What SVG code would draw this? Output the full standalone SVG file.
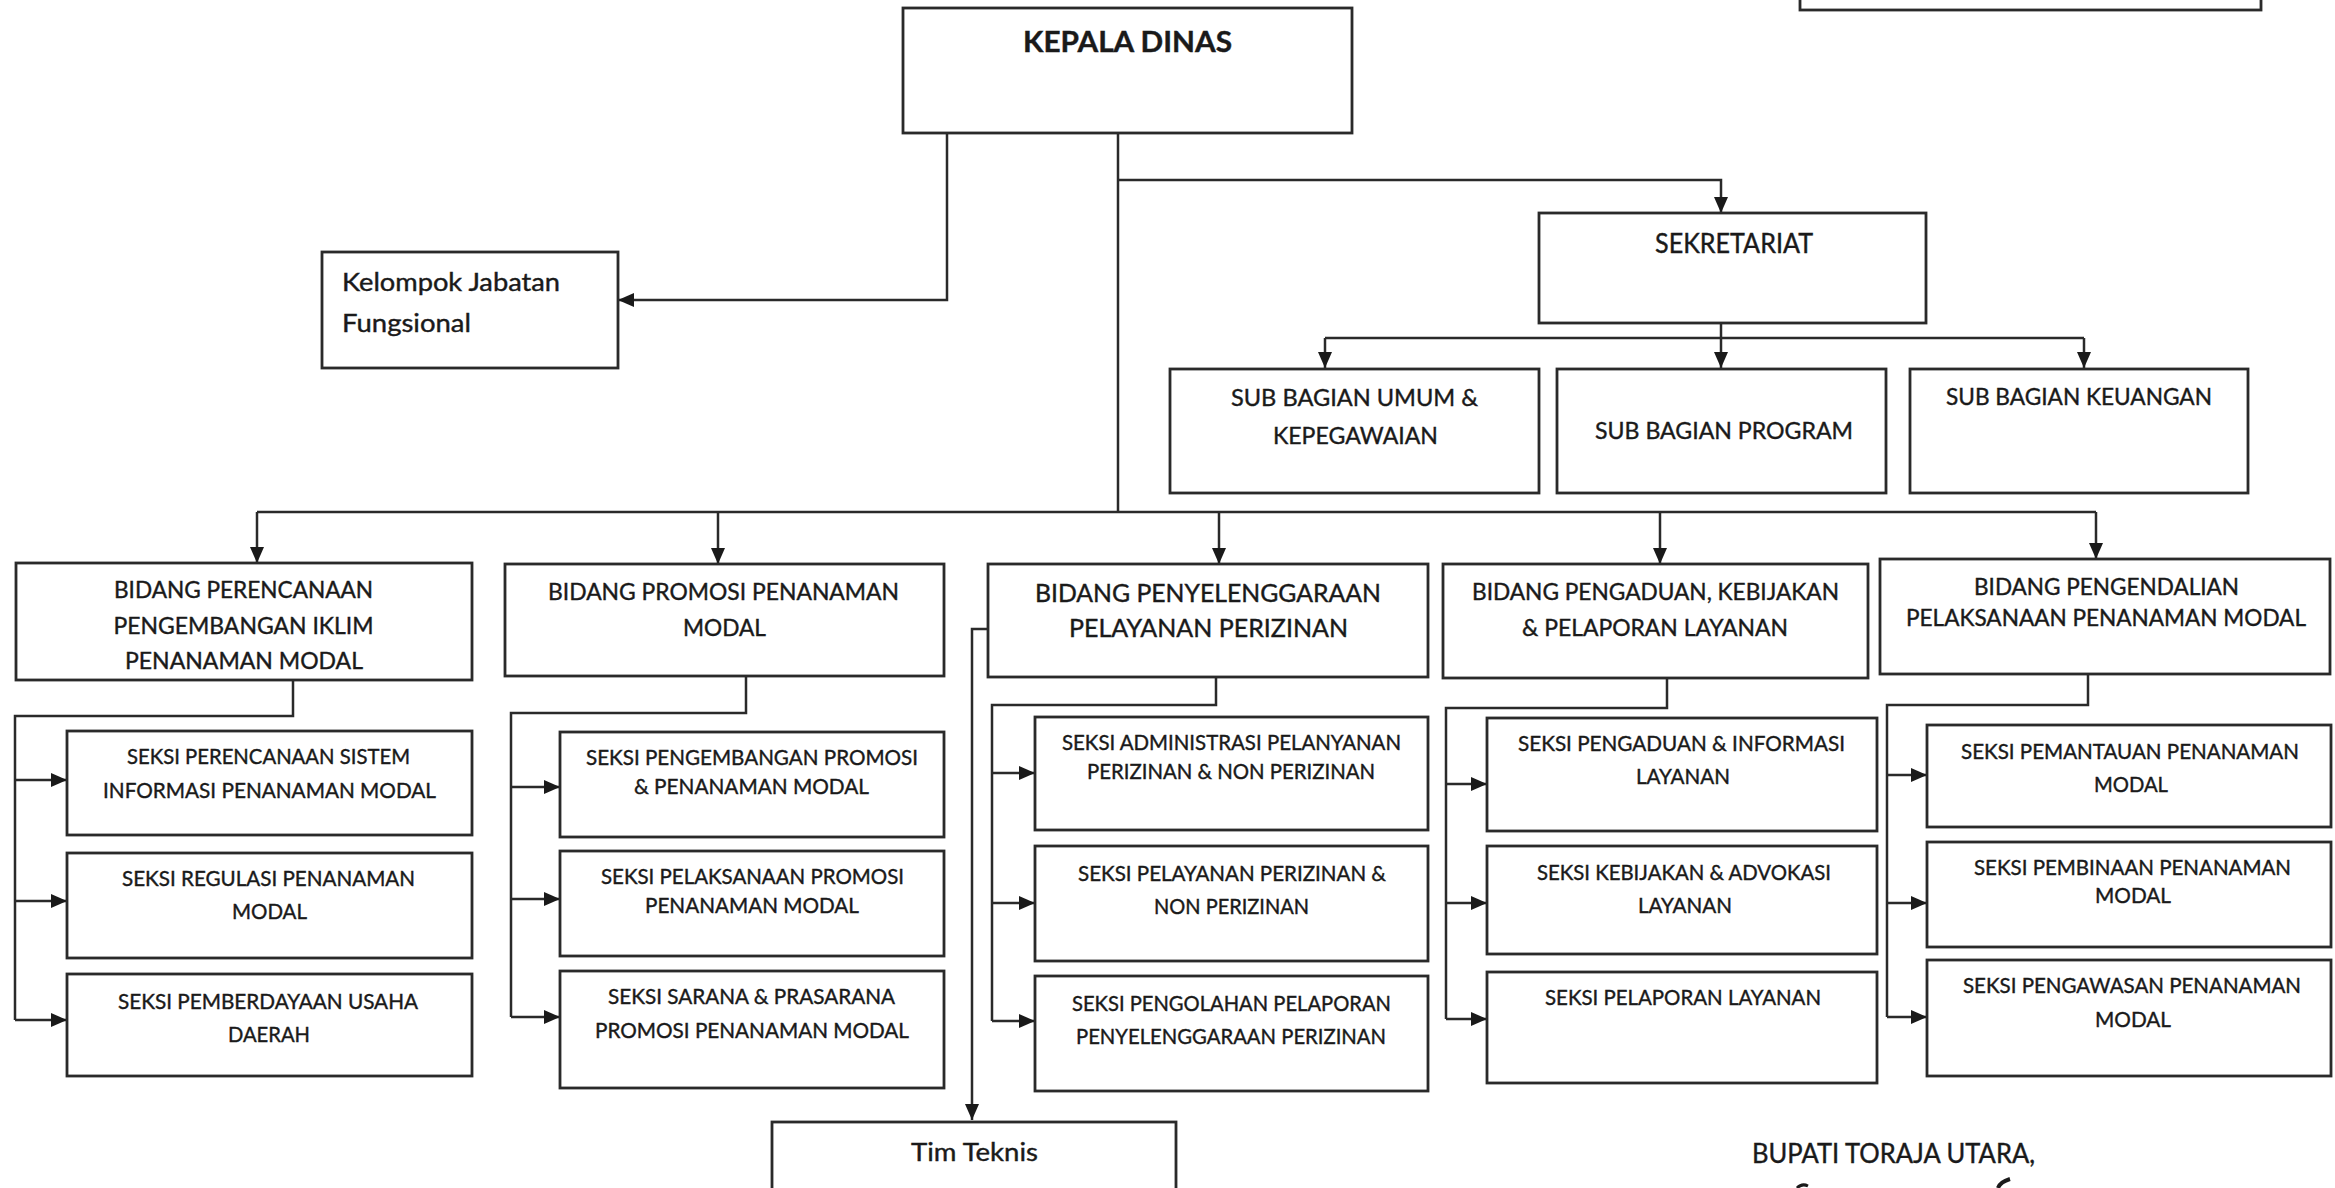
<svg xmlns="http://www.w3.org/2000/svg" width="2335" height="1188" viewBox="0 0 2335 1188">
<style>
.bx{fill:#fff;stroke:#2a2a2a;stroke-width:2.8}
.ln{fill:none;stroke:#2a2a2a;stroke-width:2.5}
text{font-family:Lato,"Open Sans","Liberation Sans",sans-serif;fill:#1a1a1a;stroke:#1a1a1a;stroke-width:0.4;text-anchor:middle}
.s{font-size:21.5px}
.b{font-size:23px}
.b3{font-size:25px}
.sb{font-size:24px}
.l{text-anchor:start;font-size:25px}
</style>
<defs>
<marker id="ar" viewBox="0 0 16 14" refX="16" refY="7" markerWidth="16" markerHeight="14" markerUnits="userSpaceOnUse" orient="auto">
<path d="M0,0 L16,7 L0,14 z" fill="#1a1a1a"/>
</marker>
</defs>
<rect width="2335" height="1188" fill="#fff"/>

<g id="connectors">
<path class="ln" d="M947,133 V300 H618" marker-end="url(#ar)"/>
<path class="ln" d="M1118,133 V512"/>
<path class="ln" d="M1118,180 H1721 V213" marker-end="url(#ar)"/>
<path class="ln" d="M1721,323 V368" marker-end="url(#ar)"/>
<path class="ln" d="M1325,338 H2084"/>
<path class="ln" d="M1325,338 V368" marker-end="url(#ar)"/>
<path class="ln" d="M2084,338 V368" marker-end="url(#ar)"/>
<path class="ln" d="M257,512 H2096"/>
<path class="ln" d="M257,512 V563" marker-end="url(#ar)"/>
<path class="ln" d="M718,512 V564" marker-end="url(#ar)"/>
<path class="ln" d="M1219,512 V564" marker-end="url(#ar)"/>
<path class="ln" d="M1660,512 V564" marker-end="url(#ar)"/>
<path class="ln" d="M2096,512 V559" marker-end="url(#ar)"/>
<path class="ln" d="M293,680 V716 H15 V1020"/>
<path class="ln" d="M15,780 H67" marker-end="url(#ar)"/>
<path class="ln" d="M15,901 H67" marker-end="url(#ar)"/>
<path class="ln" d="M15,1020 H67" marker-end="url(#ar)"/>
<path class="ln" d="M746,676 V713 H511 V1017"/>
<path class="ln" d="M511,787 H560" marker-end="url(#ar)"/>
<path class="ln" d="M511,899 H560" marker-end="url(#ar)"/>
<path class="ln" d="M511,1017 H560" marker-end="url(#ar)"/>
<path class="ln" d="M1216,677 V705 H992 V1021"/>
<path class="ln" d="M992,773 H1035" marker-end="url(#ar)"/>
<path class="ln" d="M992,903 H1035" marker-end="url(#ar)"/>
<path class="ln" d="M992,1021 H1035" marker-end="url(#ar)"/>
<path class="ln" d="M1667,678 V708 H1446 V1019"/>
<path class="ln" d="M1446,784 H1487" marker-end="url(#ar)"/>
<path class="ln" d="M1446,903 H1487" marker-end="url(#ar)"/>
<path class="ln" d="M1446,1019 H1487" marker-end="url(#ar)"/>
<path class="ln" d="M2088,674 V705 H1887 V1017"/>
<path class="ln" d="M1887,775 H1927" marker-end="url(#ar)"/>
<path class="ln" d="M1887,903 H1927" marker-end="url(#ar)"/>
<path class="ln" d="M1887,1017 H1927" marker-end="url(#ar)"/>
<path class="ln" d="M988,629 H972 V1120" marker-end="url(#ar)"/>
</g>

<g id="top-right-box"><rect class="bx" x="1800" y="-10" width="461" height="20"/></g>

<g id="kepala-dinas">
<rect class="bx" x="903" y="8" width="449" height="125"/>
<text x="1127.5" y="52" font-size="28" font-weight="bold" textLength="209" lengthAdjust="spacingAndGlyphs">KEPALA DINAS</text>
</g>

<g id="kelompok-jabatan-fungsional">
<rect class="bx" x="322" y="252" width="296" height="116"/>
<text class="l" x="342" y="291" textLength="218" lengthAdjust="spacingAndGlyphs">Kelompok Jabatan</text>
<text class="l" x="342" y="332" textLength="129" lengthAdjust="spacingAndGlyphs">Fungsional</text>
</g>

<g id="sekretariat">
<rect class="bx" x="1539" y="213" width="387" height="110"/>
<text x="1734" y="253" font-size="26" textLength="158" lengthAdjust="spacingAndGlyphs">SEKRETARIAT</text>
</g>

<g id="sub-umum">
<rect class="bx" x="1170" y="369" width="369" height="124"/>
<text class="sb" x="1354.5" y="406" textLength="247" lengthAdjust="spacingAndGlyphs">SUB BAGIAN UMUM &amp;</text>
<text class="sb" x="1355.5" y="444" textLength="165" lengthAdjust="spacingAndGlyphs">KEPEGAWAIAN</text>
</g>
<g id="sub-program">
<rect class="bx" x="1557" y="369" width="329" height="124"/>
<text class="sb" x="1724" y="439" textLength="258" lengthAdjust="spacingAndGlyphs">SUB BAGIAN PROGRAM</text>
</g>
<g id="sub-keuangan">
<rect class="bx" x="1910" y="369" width="338" height="124"/>
<text class="sb" x="2079" y="405" textLength="266" lengthAdjust="spacingAndGlyphs">SUB BAGIAN KEUANGAN</text>
</g>

<g id="bidang-perencanaan">
<rect class="bx" x="16" y="563" width="456" height="117"/>
<text class="b" x="243.5" y="598" textLength="259" lengthAdjust="spacingAndGlyphs">BIDANG PERENCANAAN</text>
<text class="b" x="243.5" y="634" textLength="260" lengthAdjust="spacingAndGlyphs">PENGEMBANGAN IKLIM</text>
<text class="b" x="244" y="669" textLength="238" lengthAdjust="spacingAndGlyphs">PENANAMAN MODAL</text>
</g>
<g id="bidang-promosi">
<rect class="bx" x="505" y="564" width="439" height="112"/>
<text class="b" x="723.5" y="600" textLength="351" lengthAdjust="spacingAndGlyphs">BIDANG PROMOSI PENANAMAN</text>
<text class="b" x="724.5" y="636" textLength="83" lengthAdjust="spacingAndGlyphs">MODAL</text>
</g>
<g id="bidang-penyelenggaraan">
<rect class="bx" x="988" y="564" width="440" height="113"/>
<text class="b3" x="1208" y="602" textLength="346" lengthAdjust="spacingAndGlyphs">BIDANG PENYELENGGARAAN</text>
<text class="b3" x="1208.5" y="637" textLength="279" lengthAdjust="spacingAndGlyphs">PELAYANAN PERIZINAN</text>
</g>
<g id="bidang-pengaduan">
<rect class="bx" x="1443" y="564" width="425" height="114"/>
<text class="b" x="1655.5" y="600" textLength="367" lengthAdjust="spacingAndGlyphs">BIDANG PENGADUAN, KEBIJAKAN</text>
<text class="b" x="1655" y="636" textLength="266" lengthAdjust="spacingAndGlyphs">&amp; PELAPORAN LAYANAN</text>
</g>
<g id="bidang-pengendalian">
<rect class="bx" x="1880" y="559" width="450" height="115"/>
<text class="b" x="2106.5" y="595" textLength="265" lengthAdjust="spacingAndGlyphs">BIDANG PENGENDALIAN</text>
<text class="b" x="2106" y="626" textLength="400" lengthAdjust="spacingAndGlyphs">PELAKSANAAN PENANAMAN MODAL</text>
</g>

<g id="seksi-perencanaan-sistem">
<rect class="bx" x="67" y="731" width="405" height="104"/>
<text class="s" x="268.5" y="764" textLength="283" lengthAdjust="spacingAndGlyphs">SEKSI PERENCANAAN SISTEM</text>
<text class="s" x="269.5" y="798" textLength="333" lengthAdjust="spacingAndGlyphs">INFORMASI PENANAMAN MODAL</text>
</g>
<g id="seksi-regulasi">
<rect class="bx" x="67" y="853" width="405" height="105"/>
<text class="s" x="268.5" y="886" textLength="293" lengthAdjust="spacingAndGlyphs">SEKSI REGULASI PENANAMAN</text>
<text class="s" x="269.5" y="919" textLength="75" lengthAdjust="spacingAndGlyphs">MODAL</text>
</g>
<g id="seksi-pemberdayaan">
<rect class="bx" x="67" y="974" width="405" height="102"/>
<text class="s" x="268" y="1009" textLength="300" lengthAdjust="spacingAndGlyphs">SEKSI PEMBERDAYAAN USAHA</text>
<text class="s" x="269" y="1042" textLength="82" lengthAdjust="spacingAndGlyphs">DAERAH</text>
</g>

<g id="seksi-pengembangan-promosi">
<rect class="bx" x="560" y="732" width="384" height="105"/>
<text class="s" x="752" y="765" textLength="332" lengthAdjust="spacingAndGlyphs">SEKSI PENGEMBANGAN PROMOSI</text>
<text class="s" x="751.5" y="794" textLength="235" lengthAdjust="spacingAndGlyphs">&amp; PENANAMAN MODAL</text>
</g>
<g id="seksi-pelaksanaan-promosi">
<rect class="bx" x="560" y="851" width="384" height="105"/>
<text class="s" x="752.5" y="884" textLength="303" lengthAdjust="spacingAndGlyphs">SEKSI PELAKSANAAN PROMOSI</text>
<text class="s" x="752" y="913" textLength="214" lengthAdjust="spacingAndGlyphs">PENANAMAN MODAL</text>
</g>
<g id="seksi-sarana-prasarana">
<rect class="bx" x="560" y="971" width="384" height="117"/>
<text class="s" x="751.5" y="1004" textLength="287" lengthAdjust="spacingAndGlyphs">SEKSI SARANA &amp; PRASARANA</text>
<text class="s" x="752" y="1038" textLength="314" lengthAdjust="spacingAndGlyphs">PROMOSI PENANAMAN MODAL</text>
</g>

<g id="seksi-administrasi">
<rect class="bx" x="1035" y="717" width="393" height="113"/>
<text class="s" x="1231.5" y="750" textLength="339" lengthAdjust="spacingAndGlyphs">SEKSI ADMINISTRASI PELANYANAN</text>
<text class="s" x="1231" y="779" textLength="288" lengthAdjust="spacingAndGlyphs">PERIZINAN &amp; NON PERIZINAN</text>
</g>
<g id="seksi-pelayanan-perizinan">
<rect class="bx" x="1035" y="846" width="393" height="115"/>
<text class="s" x="1232" y="881" textLength="308" lengthAdjust="spacingAndGlyphs">SEKSI PELAYANAN PERIZINAN &amp;</text>
<text class="s" x="1231.5" y="914" textLength="155" lengthAdjust="spacingAndGlyphs">NON PERIZINAN</text>
</g>
<g id="seksi-pengolahan">
<rect class="bx" x="1035" y="976" width="393" height="115"/>
<text class="s" x="1231.5" y="1011" textLength="319" lengthAdjust="spacingAndGlyphs">SEKSI PENGOLAHAN PELAPORAN</text>
<text class="s" x="1231" y="1044" textLength="310" lengthAdjust="spacingAndGlyphs">PENYELENGGARAAN PERIZINAN</text>
</g>

<g id="seksi-pengaduan">
<rect class="bx" x="1487" y="718" width="390" height="113"/>
<text class="s" x="1681.5" y="751" textLength="327" lengthAdjust="spacingAndGlyphs">SEKSI PENGADUAN &amp; INFORMASI</text>
<text class="s" x="1683" y="784" textLength="94" lengthAdjust="spacingAndGlyphs">LAYANAN</text>
</g>
<g id="seksi-kebijakan">
<rect class="bx" x="1487" y="846" width="390" height="108"/>
<text class="s" x="1684" y="880" textLength="294" lengthAdjust="spacingAndGlyphs">SEKSI KEBIJAKAN &amp; ADVOKASI</text>
<text class="s" x="1685" y="913" textLength="94" lengthAdjust="spacingAndGlyphs">LAYANAN</text>
</g>
<g id="seksi-pelaporan">
<rect class="bx" x="1487" y="972" width="390" height="111"/>
<text class="s" x="1683" y="1005" textLength="276" lengthAdjust="spacingAndGlyphs">SEKSI PELAPORAN LAYANAN</text>
</g>

<g id="seksi-pemantauan">
<rect class="bx" x="1927" y="725" width="404" height="102"/>
<text class="s" x="2130" y="759" textLength="338" lengthAdjust="spacingAndGlyphs">SEKSI PEMANTAUAN PENANAMAN</text>
<text class="s" x="2131" y="792" textLength="74" lengthAdjust="spacingAndGlyphs">MODAL</text>
</g>
<g id="seksi-pembinaan">
<rect class="bx" x="1927" y="842" width="404" height="105"/>
<text class="s" x="2132.5" y="875" textLength="317" lengthAdjust="spacingAndGlyphs">SEKSI PEMBINAAN PENANAMAN</text>
<text class="s" x="2133" y="903" textLength="76" lengthAdjust="spacingAndGlyphs">MODAL</text>
</g>
<g id="seksi-pengawasan">
<rect class="bx" x="1927" y="960" width="404" height="116"/>
<text class="s" x="2132" y="993" textLength="338" lengthAdjust="spacingAndGlyphs">SEKSI PENGAWASAN PENANAMAN</text>
<text class="s" x="2133" y="1027" textLength="76" lengthAdjust="spacingAndGlyphs">MODAL</text>
</g>

<g id="tim-teknis">
<rect class="bx" x="772" y="1122" width="404" height="80"/>
<text x="974.5" y="1161" font-size="25" textLength="127" lengthAdjust="spacingAndGlyphs">Tim Teknis</text>
</g>

<g id="bupati">
<text x="1893.5" y="1163" font-size="27" textLength="283" lengthAdjust="spacingAndGlyphs">BUPATI TORAJA UTARA,</text>
<path d="M1797,1188 Q1802,1183 1808,1186" fill="none" stroke="#1a1a1a" stroke-width="3"/>
<path d="M2010,1179 Q2000,1182 1998,1188" fill="none" stroke="#1a1a1a" stroke-width="4"/>
</g>
</svg>
